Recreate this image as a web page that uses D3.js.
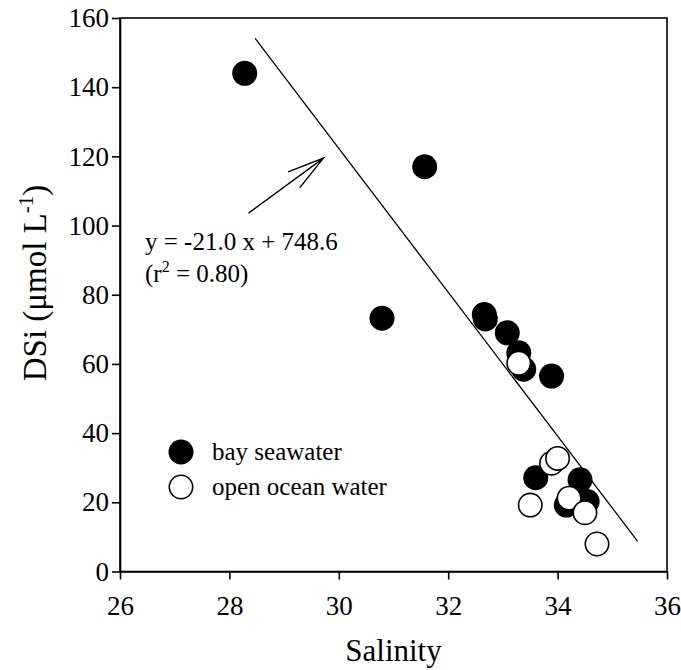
<!DOCTYPE html>
<html>
<head>
<meta charset="utf-8">
<script src="https://cdnjs.cloudflare.com/ajax/libs/d3/7.8.5/d3.min.js"></script>
<style>
  body { margin: 0; background: #fff; }
  text { font-family: "Liberation Serif", "Times New Roman", serif; fill: #000; }
</style>
</head>
<body>
<div class="chart"></div>
<script>
// Data
var bayX = [28.28, 31.57, 30.79, 32.66, 32.68, 33.08, 33.29, 33.38, 33.89, 33.60, 34.41, 34.16, 34.54];
var bayY = [144.0, 117.0, 73.2, 74.3, 73.0, 69.0, 63.2, 58.5, 56.5, 27.1, 26.5, 19.2, 20.2];
var oceanX = [33.29, 33.89, 34.00, 33.50, 34.21, 34.50, 34.72];
var oceanY = [60.2, 31.3, 32.7, 19.2, 21.2, 17.0, 7.95];

// regression line as drawn, and the arrow pointing at it
var fitX = [28.47, 35.46];
var fitY = [154.1, 8.8];
var arrowX = [28.35, 29.72];
var arrowY = [103.6, 119.5];

var xTicks = [26, 28, 30, 32, 34, 36];
var yTicks = [0, 20, 40, 60, 80, 100, 120, 140, 160];
var seriesNames = ["bay seawater", "open ocean water"];

var svgWidth = 681;
var svgHeight = 670;
var margin = { top: 18, right: 14, bottom: 98.5, left: 120 };
var width = svgWidth - margin.left - margin.right;
var height = svgHeight - margin.top - margin.bottom;

var svg = d3.select(".chart")
  .append("svg")
  .attr("width", svgWidth)
  .attr("height", svgHeight);

var chart = svg.append("g")
  .attr("transform", "translate(" + margin.left + "," + margin.top + ")");

var xScale = d3.scaleLinear().domain([26, 36]).range([0, width]);
var yScale = d3.scaleLinear().domain([0, 160]).range([height, 0]);

// Axes
var bottomAxis = d3.axisBottom(xScale).tickValues(xTicks).tickSize(8).tickSizeOuter(0).tickPadding(16);
var leftAxis = d3.axisLeft(yScale).tickValues(yTicks).tickSize(8).tickSizeOuter(0).tickPadding(3);

chart.append("g")
  .attr("transform", "translate(0," + height + ")")
  .call(bottomAxis);

chart.append("g")
  .call(leftAxis);

chart.selectAll(".tick text")
  .style("font-size", "27px")
  .style("font-family", "'Liberation Serif', serif");
chart.selectAll(".tick line, .domain")
  .attr("stroke", "#000")
  .attr("stroke-width", 1.6);

// frame
chart.append("rect")
  .attr("width", width)
  .attr("height", height)
  .attr("fill", "none")
  .attr("stroke", "#000")
  .attr("stroke-width", 1.6);

// regression line
chart.append("line")
  .attr("x1", xScale(fitX[0]))
  .attr("y1", yScale(fitY[0]))
  .attr("x2", xScale(fitX[1]))
  .attr("y2", yScale(fitY[1]))
  .attr("stroke", "#000")
  .attr("stroke-width", 1.3);

// arrow
var ax0 = xScale(arrowX[0]), ay0 = yScale(arrowY[0]);
var ax1 = xScale(arrowX[1]), ay1 = yScale(arrowY[1]);
var ang = Math.atan2(ay0 - ay1, ax0 - ax1);
var barb = 38, spread = 15 * Math.PI / 180;
chart.append("path")
  .attr("d", "M" + ax0 + "," + ay0 + "L" + ax1 + "," + ay1 +
    "M" + (ax1 + barb * Math.cos(ang + spread)) + "," + (ay1 + barb * Math.sin(ang + spread)) +
    "L" + ax1 + "," + ay1 +
    "L" + (ax1 + barb * Math.cos(ang - spread)) + "," + (ay1 + barb * Math.sin(ang - spread)))
  .attr("fill", "none")
  .attr("stroke", "#000")
  .attr("stroke-width", 1.3);

// equation
chart.append("text")
  .attr("x", 25)
  .attr("y", 232)
  .style("font-size", "25px")
  .text("y = -21.0 x + 748.6");
var r2 = chart.append("text")
  .attr("x", 25)
  .attr("y", 264)
  .style("font-size", "25px");
r2.append("tspan").text("(r");
r2.append("tspan").attr("dy", -10).style("font-size", "16px").text("2");
r2.append("tspan").attr("dy", 10).text(" = 0.80)");

// points
var r = 12.5;
chart.selectAll(".bay")
  .data(d3.range(bayX.length))
  .enter()
  .append("circle")
  .attr("class", "bay")
  .attr("cx", function(i) { return xScale(bayX[i]); })
  .attr("cy", function(i) { return yScale(bayY[i]); })
  .attr("r", r)
  .attr("fill", "#000");

chart.selectAll(".ocean")
  .data(d3.range(oceanX.length))
  .enter()
  .append("circle")
  .attr("class", "ocean")
  .attr("cx", function(i) { return xScale(oceanX[i]); })
  .attr("cy", function(i) { return yScale(oceanY[i]); })
  .attr("r", r - 0.8)
  .attr("fill", "#fff")
  .attr("stroke", "#000")
  .attr("stroke-width", 1.6);

// legend
var legend = chart.append("g").attr("transform", "translate(61,434)");
legend.append("circle").attr("cx", 0).attr("cy", 0).attr("r", r).attr("fill", "#000");
legend.append("circle").attr("cx", 0).attr("cy", 35).attr("r", r - 0.8)
  .attr("fill", "#fff").attr("stroke", "#000").attr("stroke-width", 1.6);
legend.selectAll("text")
  .data(seriesNames)
  .enter()
  .append("text")
  .attr("x", 31)
  .attr("y", function(d, i) { return 8 + i * 35; })
  .style("font-size", "25px")
  .text(function(d) { return d; });

// axis titles
svg.append("text")
  .attr("x", margin.left + width / 2)
  .attr("y", 661)
  .attr("text-anchor", "middle")
  .style("font-size", "31px")
  .text("Salinity");

var yLabel = svg.append("text")
  .attr("transform", "translate(46,283) rotate(-90)")
  .attr("text-anchor", "middle")
  .style("font-size", "33px");
yLabel.append("tspan").text("DSi (\u03bcmol L");
yLabel.append("tspan").attr("dy", -13).style("font-size", "21px").text("-1");
yLabel.append("tspan").attr("dy", 13).text(")");
</script>
</body>
</html>
